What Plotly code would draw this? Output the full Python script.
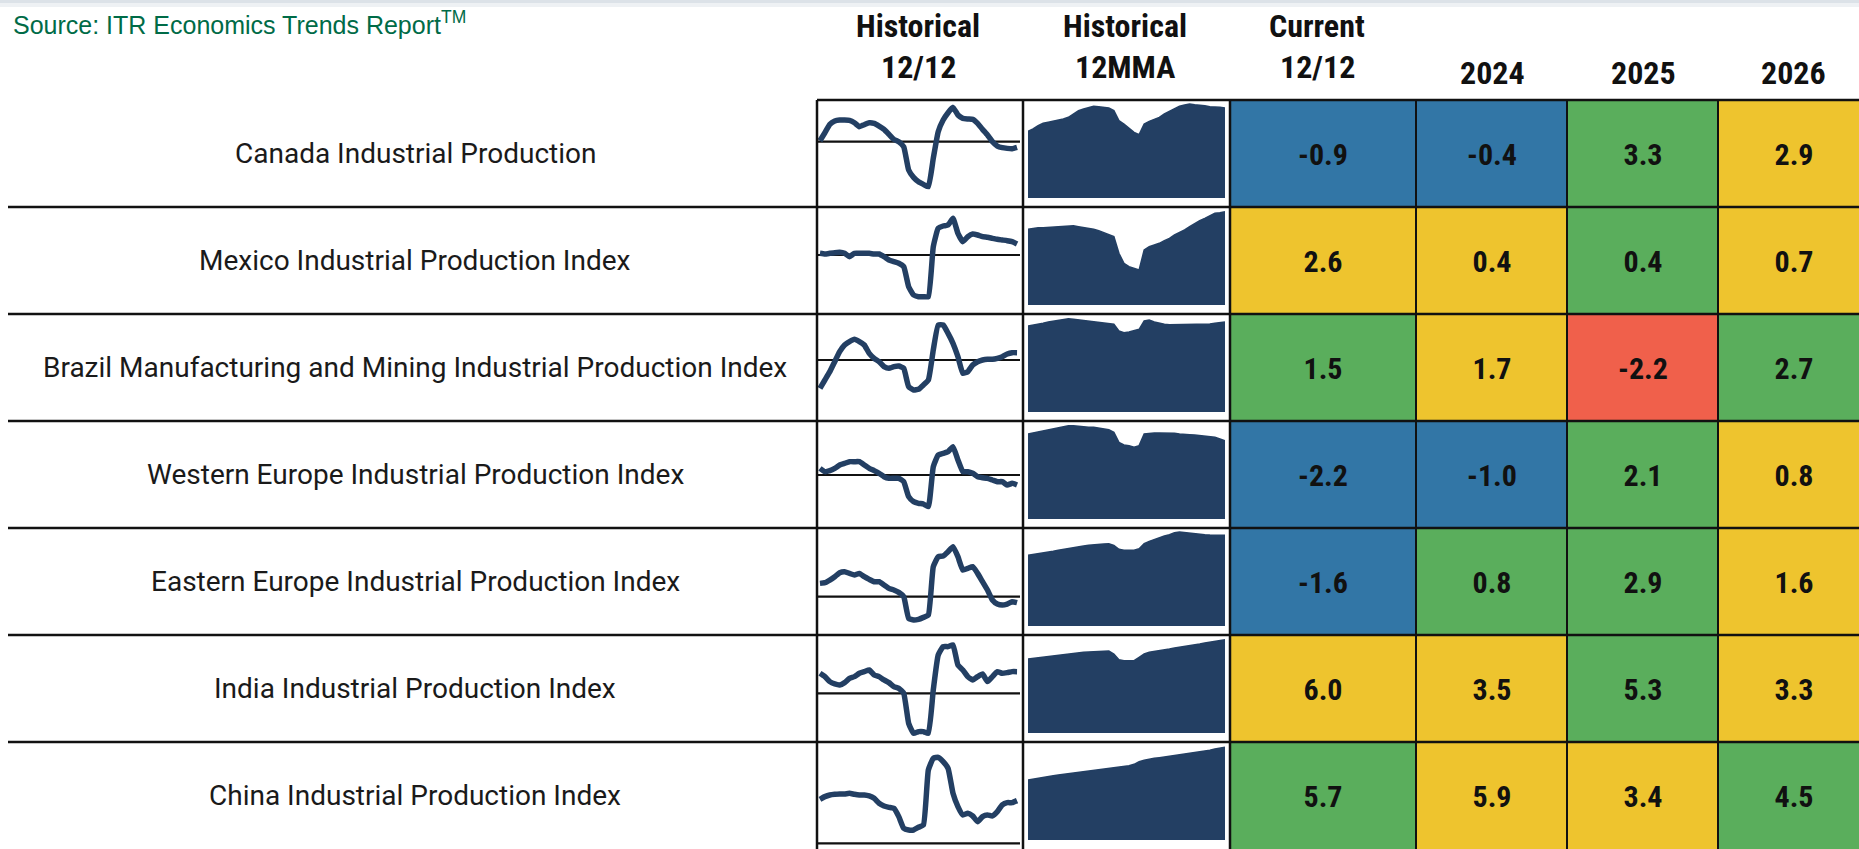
import plotly.graph_objects as go

W, H = 1859, 849

# ---------------------------------------------------------------- data
indicators = [
    "Canada Industrial Production",
    "Mexico Industrial Production Index",
    "Brazil Manufacturing and Mining Industrial Production Index",
    "Western Europe Industrial Production Index",
    "Eastern Europe Industrial Production Index",
    "India Industrial Production Index",
    "China Industrial Production Index",
]

current_12_12 = [-0.9, 2.6, 1.5, -2.2, -1.6, 6.0, 5.7]
forecast_2024 = [-0.4, 0.4, 1.7, -1.0, 0.8, 3.5, 5.9]
forecast_2025 = [3.3, 0.4, -2.2, 2.1, 2.9, 5.3, 3.4]
forecast_2026 = [2.9, 0.7, 2.7, 0.8, 1.6, 3.3, 4.5]

# business-cycle phase of each cell (A recovery, B accelerating, C slowing, D recession)
phase_current = ["A", "C", "B", "A", "A", "C", "B"]
phase_2024 = ["A", "C", "C", "A", "B", "C", "C"]
phase_2025 = ["B", "B", "D", "B", "B", "B", "C"]
phase_2026 = ["C", "C", "B", "C", "C", "C", "B"]

header_line1 = ["Historical", "Historical", "Current", "", "", ""]
header_line2 = ["12/12", "12MMA", "12/12", "2024", "2025", "2026"]

# historical 12/12 rate-of-change (%)
canada_12_12 = [0.3, 2.7, 5.2, 6.2, 6.5, 6.5, 6.4, 5.7, 4.5, 5.1, 5.7, 5.5, 4.7, 3.7, 2.2, 0.7, 0.0,
                -1.5, -8.5, -10.7, -12.0, -12.8, -13.5, -5.0, 3.0, 6.5, 8.7, 10.3, 8.0, 7.0, 6.8, 6.7,
                5.5, 3.7, 2.0, 0.0, -1.3, -1.8, -2.0, -2.1, -1.7]
mexico_12_12 = [0.5, 0.3, 0.5, 0.7, 0.8, 0.5, -0.5, 0.5, 0.5, 0.5, 0.5, 0.3, 0.3, -0.5, -1.5, -2.0, -2.5,
                -3.5, -9.5, -12.0, -12.5, -12.5, -12.5, 2.5, 8.0, 8.7, 9.0, 11.0, 6.5, 4.0, 5.5, 6.3,
                6.0, 5.5, 5.3, 5.0, 4.7, 4.5, 4.3, 4.0, 3.3]
brazil_12_12 = [-8.5, -6.0, -3.5, -0.5, 2.5, 4.5, 5.5, 6.2, 5.5, 4.5, 2.0, 0.5, -0.5, -2.0, -2.5, -2.0,
                -1.8, -2.5, -8.0, -9.0, -8.8, -7.5, -6.0, 3.0, 10.5, 10.5, 8.0, 5.0, 1.0, -4.0, -3.5,
                -1.5, -0.5, 0.0, 0.2, 0.2, 0.5, 1.0, 1.8, 2.2, 2.2]
w_europe_12_12 = [2.0, 1.0, 1.3, 2.0, 3.0, 3.5, 4.0, 4.0, 4.0, 3.0, 2.0, 1.3, 0.5, -0.5, -1.0, -1.0, -1.0,
                  -2.0, -6.5, -8.0, -8.5, -8.7, -9.5, 2.5, 6.0, 6.5, 7.0, 8.5, 4.5, 1.0, 1.0, 0.5,
                  -0.5, -0.8, -1.0, -1.5, -2.0, -2.0, -3.0, -2.5, -3.0]
e_europe_12_12 = [4.0, 4.2, 5.0, 6.0, 7.2, 7.5, 7.0, 6.5, 7.0, 6.0, 5.2, 4.5, 4.5, 3.5, 2.5, 2.0, 1.3,
                  0.0, -6.5, -7.0, -6.8, -6.2, -5.5, 9.0, 12.0, 12.2, 13.5, 15.0, 12.0, 8.0, 8.5, 9.0,
                  7.0, 4.5, 2.0, -1.0, -2.2, -2.5, -2.2, -1.5, -1.8]
india_12_12 = [6.0, 5.0, 3.5, 2.8, 2.5, 3.2, 4.5, 5.0, 6.0, 6.5, 7.0, 5.5, 5.0, 4.0, 3.2, 2.0, 1.5,
               0.0, -9.0, -12.0, -11.5, -11.5, -12.0, 1.0, 11.5, 14.0, 14.0, 14.5, 8.5, 7.0, 5.0, 4.0,
               5.0, 5.8, 3.5, 5.0, 6.5, 6.0, 6.2, 6.5, 6.5]
china_12_12 = [13.2, 14.0, 14.5, 14.7, 14.8, 14.8, 15.0, 14.7, 14.5, 14.5, 14.2, 13.5, 12.0, 11.2, 10.8,
               10.5, 8.0, 4.5, 4.0, 4.0, 4.8, 5.5, 22.0, 25.5, 25.8, 24.5, 22.5, 15.0, 11.0, 8.5, 9.0,
               8.2, 6.5, 8.0, 8.5, 8.2, 9.5, 11.5, 12.2, 12.2, 12.8]

# historical 12-month moving average (index)
canada_12mma = [100.0, 100.7, 101.7, 102.4, 102.7, 103.0, 103.4, 103.7, 104.2, 105.2, 106.2, 106.7,
                107.2, 107.5, 107.4, 107.2, 107.0, 106.2, 103.2, 102.2, 101.0, 99.7, 99.0, 102.2,
                103.0, 103.7, 104.2, 105.2, 106.0, 106.7, 107.5, 107.9, 108.2, 108.0, 107.9, 107.7,
                107.4, 107.4, 107.2, 107.0]
mexico_12mma = [102.7, 103.0, 103.2, 103.2, 103.3, 103.3, 103.5, 103.5, 103.7, 103.8, 103.5, 103.3,
                103.0, 102.7, 102.3, 101.7, 101.3, 100.5, 95.5, 92.5, 91.5, 91.0, 90.5, 96.5, 97.5,
                98.0, 98.5, 99.3, 100.0, 101.0, 101.7, 102.5, 103.5, 104.5, 105.3, 106.0, 106.7,
                107.5, 107.7, 108.0]
brazil_12mma = [105.8, 106.0, 106.3, 106.6, 107.0, 107.3, 107.6, 107.8, 108.0, 107.8, 107.6, 107.6,
                107.3, 107.0, 107.0, 106.8, 106.6, 106.3, 104.3, 103.8, 104.0, 104.3, 104.8, 107.3,
                107.6, 107.0, 106.6, 106.3, 106.2, 106.2, 106.2, 106.2, 106.2, 106.2, 106.3, 106.3,
                106.4, 106.6, 106.8, 107.0]
w_europe_12mma = [105.5, 105.8, 106.2, 106.5, 106.8, 107.2, 107.5, 107.8, 108.0, 108.0, 107.8, 107.7,
                  107.5, 107.5, 107.2, 107.0, 106.8, 106.0, 103.0, 102.2, 102.0, 101.5, 102.0, 105.5,
                  105.7, 105.8, 105.8, 105.8, 105.8, 105.7, 105.5, 105.3, 105.3, 105.2, 105.0, 104.8,
                  104.7, 104.5, 104.0, 103.5]
e_europe_12mma = [101.2, 101.4, 101.7, 102.0, 102.2, 102.4, 102.7, 103.0, 103.2, 103.5, 103.7, 104.0,
                  104.2, 104.4, 104.5, 104.6, 104.7, 104.2, 103.0, 102.7, 102.7, 102.7, 103.2, 104.7,
                  105.4, 106.0, 106.4, 107.0, 107.4, 108.0, 108.2, 108.0, 107.9, 107.7, 107.6, 107.4,
                  107.3, 107.2, 107.2, 107.2]
india_12mma = [102.2, 102.4, 102.6, 102.8, 103.0, 103.2, 103.4, 103.6, 103.7, 103.9, 104.1, 104.2,
               104.3, 104.4, 104.4, 104.5, 104.6, 103.7, 102.0, 101.7, 101.7, 101.7, 102.7, 103.7,
               104.2, 104.4, 104.7, 105.0, 105.2, 105.5, 105.7, 106.0, 106.2, 106.5, 106.7, 107.0,
               107.2, 107.5, 107.7, 108.0]
china_12mma = [98.0, 98.3, 98.5, 98.7, 99.0, 99.3, 99.5, 99.7, 99.9, 100.1, 100.3, 100.5, 100.7, 100.9,
               101.1, 101.3, 101.3, 101.5, 101.7, 101.9, 102.3, 102.7, 103.5, 103.9, 104.3, 104.5,
               104.7, 104.9, 105.1, 105.3, 105.5, 105.7, 105.9, 106.1, 106.3, 106.5, 106.9, 107.3,
               107.5, 107.8]

rate_series = [canada_12_12, mexico_12_12, brazil_12_12, w_europe_12_12,
               e_europe_12_12, india_12_12, china_12_12]
mma_series = [canada_12mma, mexico_12mma, brazil_12mma, w_europe_12mma,
              e_europe_12mma, india_12mma, china_12mma]

# ---------------------------------------------------------------- layout constants
ROW_TOP, ROW_H = 100, 107
PX_PER_UNIT = 10 / 3
RATE_ZERO_OFFSET = [41.7, 48, 46, 54, 68.7, 58.3, 101.3]   # zero line below row top, px
MMA_DEPTH = 98                                               # area baseline below row top, px
MMA_FLOOR = 80
COL_X = [817, 1023, 1230, 1416, 1567, 1718]                  # grid verticals
COL_EDGES = [1230, 1416, 1567, 1718, 1870]                   # forecast cell bins
HEADER_X = [918, 1125, 1317, 1492, 1643, 1793]
LABEL_X = 415

PHASE_COLORS = {"A": "#3276A6", "B": "#5AAE5C", "C": "#EEC42E", "D": "#F0604B"}
PHASE_ORDER = ["A", "B", "C", "D"]
NAVY = "#233F63"
COND_BOLD = "Roboto Condensed, Liberation Sans Narrow, Roboto"


def px_x(px):
    return px / W


def px_y(py):
    return 1 - py / H


fig = go.Figure()
layout = {}

# ---------------------------------------------------------------- forecast cells
values = [current_12_12, forecast_2024, forecast_2025, forecast_2026]
phases = [phase_current, phase_2024, phase_2025, phase_2026]
z = [[PHASE_ORDER.index(phases[c][r]) for c in range(4)] for r in range(7)]
txt = [[f"{values[c][r]:.1f}" for c in range(4)] for r in range(7)]
n = len(PHASE_ORDER) - 1
fig.add_trace(go.Heatmap(
    z=z, x=COL_EDGES, y=list(range(7)), text=txt, texttemplate="%{text}",
    textfont=dict(family=COND_BOLD, size=30, color="#111111", weight="bold"),
    colorscale=[[i / n, PHASE_COLORS[p]] for i, p in enumerate(PHASE_ORDER)],
    zmin=0, zmax=n, showscale=False, hoverinfo="skip",
    xaxis="x", yaxis="y",
))
layout["xaxis"] = dict(domain=[px_x(1230), 1], range=[1230, W], visible=False, fixedrange=True)
layout["yaxis"] = dict(domain=[0, px_y(ROW_TOP)], range=[6.5, -0.5], visible=False, fixedrange=True)

# ---------------------------------------------------------------- sparklines
shapes = []
for i in range(7):
    top = ROW_TOP + i * ROW_H
    ydom = [px_y(top + ROW_H), px_y(top)]
    ax_r, ax_m = 2 + 2 * i, 3 + 2 * i

    # 12/12 line with zero reference
    rate = rate_series[i]
    npts = len(rate)
    zoff = RATE_ZERO_OFFSET[i]
    pad = (npts - 1) * 3 / 200
    fig.add_trace(go.Scatter(
        x=list(range(npts)), y=rate, mode="lines",
        line=dict(color=NAVY, width=5.5, shape="spline", smoothing=0.4), hoverinfo="skip",
        xaxis=f"x{ax_r}", yaxis=f"y{ax_r}",
    ))
    layout[f"xaxis{ax_r}"] = dict(domain=[px_x(817), px_x(1020)], range=[-pad, npts - 1 + pad],
                                  visible=False, fixedrange=True)
    layout[f"yaxis{ax_r}"] = dict(domain=ydom,
                                  range=[-(ROW_H - zoff) / PX_PER_UNIT, zoff / PX_PER_UNIT],
                                  visible=False, fixedrange=True)
    shapes.append(dict(type="line", xref=f"x{ax_r} domain", yref=f"y{ax_r}",
                       x0=0, x1=1, y0=0, y1=0, line=dict(color="#111111", width=2.2),
                       layer="below"))

    # 12MMA area
    mma = mma_series[i]
    fig.add_trace(go.Scatter(
        x=list(range(len(mma))), y=mma, mode="lines", fill="tozeroy",
        fillcolor=NAVY, line=dict(color=NAVY, width=1.5), hoverinfo="skip",
        xaxis=f"x{ax_m}", yaxis=f"y{ax_m}",
    ))
    layout[f"xaxis{ax_m}"] = dict(domain=[px_x(1028), px_x(1225)], range=[0, len(mma) - 1],
                                  visible=False, fixedrange=True)
    layout[f"yaxis{ax_m}"] = dict(domain=[px_y(top + MMA_DEPTH), px_y(top)],
                                  range=[MMA_FLOOR, MMA_FLOOR + MMA_DEPTH / PX_PER_UNIT],
                                  visible=False, fixedrange=True)

# ---------------------------------------------------------------- grid lines
GRID = dict(color="#111111", width=2.5)
shapes.append(dict(type="line", xref="paper", yref="paper", x0=px_x(COL_X[0]), x1=1,
                   y0=px_y(ROW_TOP), y1=px_y(ROW_TOP), line=GRID, layer="above"))
for k in range(1, 7):
    yy = px_y(ROW_TOP + k * ROW_H)
    shapes.append(dict(type="line", xref="paper", yref="paper", x0=px_x(8), x1=1,
                       y0=yy, y1=yy, line=GRID, layer="above"))
for xv in COL_X:
    w = 2.5 if xv <= 1230 else 2
    shapes.append(dict(type="line", xref="paper", yref="paper", x0=px_x(xv), x1=px_x(xv),
                       y0=0, y1=px_y(ROW_TOP), line=dict(color="#111111", width=w),
                       layer="above"))

# faint shadow along the top edge
shapes.append(dict(type="rect", xref="paper", yref="paper", x0=0, x1=1, y0=px_y(3), y1=1,
                   fillcolor="#DCE2E8", line=dict(width=0), layer="below"))
shapes.append(dict(type="rect", xref="paper", yref="paper", x0=0, x1=1, y0=px_y(7), y1=px_y(3),
                   fillcolor="#EEF1F4", line=dict(width=0), layer="below"))

# ---------------------------------------------------------------- text
annotations = []
for i, name in enumerate(indicators):
    annotations.append(dict(
        text=name, x=px_x(LABEL_X), y=px_y(ROW_TOP + i * ROW_H + ROW_H / 2),
        xref="paper", yref="paper", xanchor="center", yanchor="middle", showarrow=False,
        font=dict(family="Roboto", size=28, color="#1A1A1A"),
    ))

for hx, l1, l2 in zip(HEADER_X, header_line1, header_line2):
    if l1:
        annotations.append(dict(
            text=l1, x=px_x(hx), y=px_y(26), xref="paper", yref="paper",
            xanchor="center", yanchor="middle", showarrow=False,
            font=dict(family=COND_BOLD, size=32, color="#111111", weight="bold"),
        ))
    annotations.append(dict(
        text=l2, x=px_x(hx), y=px_y(67 if l1 else 73.5), xref="paper", yref="paper",
        xanchor="center", yanchor="middle", showarrow=False,
        font=dict(family=COND_BOLD, size=32, color="#111111", weight="bold"),
    ))

annotations.append(dict(
    text="Source: ITR Economics Trends Report<sup>TM</sup>", x=px_x(11), y=px_y(23),
    xref="paper", yref="paper", xanchor="left", yanchor="middle", showarrow=False,
    font=dict(family="Liberation Sans, Arial", size=25, color="#006B47"),
))

fig.update_layout(
    width=W, height=H, margin=dict(l=0, r=0, t=0, b=0),
    paper_bgcolor="white", plot_bgcolor="white", template="none",
    showlegend=False, shapes=shapes, annotations=annotations, **layout,
)

fig.write_html("out.html", config={"displayModeBar": False})
